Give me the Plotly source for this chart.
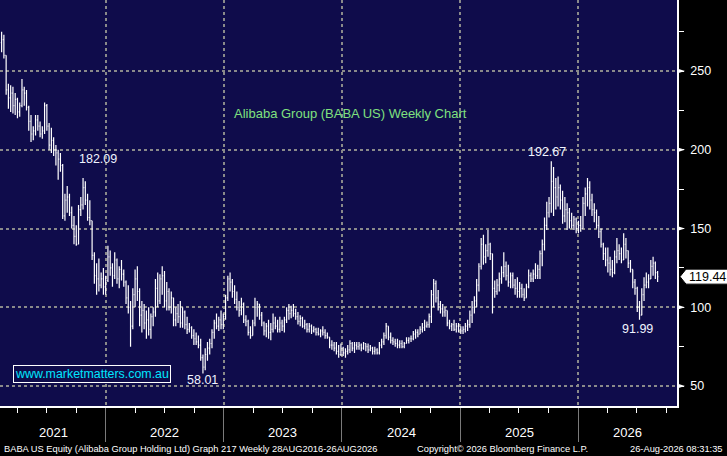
import pandas as pd
import plotly.graph_objects as go

# weekly bars (high / low / close), one list per calendar year
high_2021 = [275, 273, 260, 242, 241, 240, 236, 233, 230, 245,
             240, 238, 228, 222, 215, 222, 222, 218, 215, 230,
             229, 217, 214, 208, 203, 200, 198, 191, 172, 177,
             172, 164, 158, 152, 165, 170, 182.09, 180, 172, 168,
             155, 135, 128, 131, 122, 125]
low_2021 = [262, 258, 235, 226, 224, 223, 222, 220, 221, 227,
            228, 225, 212, 205, 206, 209, 212, 208, 207, 210,
            212, 200, 198, 196, 190, 181, 186, 156, 155, 160,
            158, 150, 140, 139, 140, 158, 162, 165, 155, 152,
            130, 115, 108, 110, 112, 108]
close_2021 = [270, 260, 238, 233, 236, 228, 232, 224, 228, 238,
              236, 227, 218, 210, 212, 219, 215, 210, 212, 228,
              215, 203, 206, 200, 198, 194, 190, 158, 168, 170,
              160, 152, 145, 140, 162, 165, 176, 168, 157, 155,
              133, 120, 118, 114, 118, 113]

high_2022 = [120, 139, 136, 128, 135, 131, 126, 130, 124, 117,
             114, 104, 112, 124, 126, 112, 104, 102, 98, 100,
             96, 100, 118, 122, 121, 126, 123, 116, 112, 110,
             106, 100, 102, 104, 100, 98, 94, 90, 88, 86,
             84, 82, 80, 70, 74, 78, 80, 86, 92, 96, 94, 98]
low_2022 = [108, 116, 120, 113, 118, 115, 112, 117, 113, 102,
            96, 75, 86, 100, 104, 88, 84, 86, 80, 82,
            80, 88, 94, 100, 102, 108, 100, 98, 98, 96,
            88, 88, 90, 87, 87, 86, 83, 84, 80, 76,
            76, 74, 66, 58.01, 60, 66, 70, 74, 80, 86, 85, 86]
close_2022 = [117, 132, 125, 120, 130, 118, 124, 121, 116, 106,
              100, 88, 108, 118, 110, 95, 98, 90, 92, 86,
              94, 97, 112, 104, 118, 120, 104, 110, 100, 106,
              92, 96, 94, 90, 97, 89, 86, 87, 82, 80,
              78, 76, 68, 62, 70, 74, 77, 84, 90, 88, 92, 89]

high_2023 = [96, 108, 120, 122, 118, 114, 110, 104, 106, 103,
             95, 92, 88, 92, 106, 104, 102, 97, 91, 90,
             92, 90, 96, 94, 92, 94, 92, 94, 100, 102,
             101, 102, 99, 97, 95, 94, 92, 90, 90, 89,
             88, 87, 87, 86, 88, 86, 84, 81, 79, 78, 78, 76]
low_2023 = [86, 92, 104, 110, 106, 102, 98, 94, 95, 90,
            88, 82, 80, 82, 88, 94, 92, 88, 82, 81,
            80, 79, 84, 86, 84, 84, 85, 84, 90, 92,
            93, 94, 92, 89, 88, 87, 86, 84, 84, 83,
            84, 82, 82, 81, 82, 80, 80, 74, 73, 72, 70, 68]
close_2023 = [94, 106, 118, 116, 110, 105, 100, 98, 102, 92,
              91, 84, 82, 90, 100, 102, 95, 90, 85, 88,
              84, 86, 90, 88, 86, 90, 88, 92, 98, 96,
              98, 96, 94, 91, 93, 88, 89, 86, 88, 85,
              86, 84, 83, 85, 84, 82, 81, 76, 76, 74, 72, 70]

high_2024 = [77, 75, 74, 76, 79, 78, 78, 78, 78, 77,
             78, 77, 77, 76, 75, 75, 74, 78, 80, 84,
             90, 88, 84, 81, 80, 80, 79, 79, 78, 81,
             81, 82, 85, 86, 86, 88, 90, 92, 91, 96,
             111, 118, 117, 111, 104, 102, 100, 98, 92, 90, 92, 90]
low_2024 = [69, 69, 68, 70, 71, 72, 71, 73, 73, 72,
            73, 72, 71, 72, 70, 70, 70, 70, 74, 76,
            80, 79, 77, 76, 75, 74, 74, 74, 74, 77,
            77, 78, 79, 80, 81, 83, 84, 85, 87, 87,
            90, 100, 103, 98, 96, 94, 94, 88, 86, 85, 85, 84]
close_2024 = [74, 71, 72, 73, 77, 74, 76, 75, 76, 74,
              77, 75, 73, 74, 72, 73, 71, 76, 78, 82,
              88, 81, 79, 78, 77, 76, 77, 75, 77, 79,
              80, 80, 83, 84, 83, 86, 87, 88, 89, 94,
              108, 115, 106, 102, 99, 97, 98, 90, 88, 89, 86, 88]

high_2025 = [90, 88, 88, 90, 92, 98, 104, 107, 118, 128,
             144, 146, 140, 149, 141, 134, 117, 118, 122, 126,
             135, 129, 127, 122, 122, 118, 119, 116, 115, 112,
             115, 124, 122, 124, 128, 127, 136, 143, 157, 167,
             170, 192.67, 189, 182, 183, 178, 174, 170, 166, 163, 160, 158]
low_2025 = [84, 83, 83, 84, 85, 87, 90, 96, 100, 110,
            124, 127, 128, 132, 130, 96, 106, 108, 110, 115,
            119, 117, 113, 112, 112, 108, 106, 106, 106, 104,
            106, 112, 116, 116, 118, 118, 118, 126, 136, 149,
            157, 160, 158, 162, 164, 162, 153, 154, 149, 150, 150, 149]
close_2025 = [86, 85, 86, 88, 89, 95, 100, 104, 114, 126,
              140, 132, 136, 140, 134, 112, 110, 114, 118, 122,
              126, 120, 116, 120, 114, 112, 110, 112, 108, 106,
              113, 120, 118, 121, 120, 124, 134, 140, 152, 160,
              166, 180, 176, 170, 176, 168, 158, 162, 160, 155, 152, 156]

high_2026 = [157, 155, 158, 170, 176, 182, 180, 172, 166, 162,
             158, 150, 141, 138, 138, 132, 130, 136, 144, 140,
             138, 147, 144, 136, 130, 124, 118, 113, 104, 112,
             119, 122, 121, 130, 132, 129, 123]
low_2026 = [147, 147, 148, 150, 158, 164, 162, 158, 154, 150,
            144, 138, 130, 126, 122, 120, 119, 121, 128, 130,
            128, 130, 131, 125, 122, 112, 108, 97, 91.99, 95,
            104, 112, 112, 118, 120, 118, 116]
close_2026 = [150, 152, 150, 166, 172, 176, 168, 162, 160, 152,
              148, 140, 134, 130, 128, 124, 122, 132, 136, 134,
              130, 140, 136, 128, 124, 116, 112, 100, 95, 108,
              114, 116, 118, 126, 128, 122, 119.44]

first_open = 268
first_week = "2021-02-12"

y_ticks = [50, 100, 150, 200, 250]
year_labels = ["2021", "2022", "2023", "2024", "2025", "2026"]

highs = high_2021 + high_2022 + high_2023 + high_2024 + high_2025 + high_2026
lows = low_2021 + low_2022 + low_2023 + low_2024 + low_2025 + low_2026
closes = close_2021 + close_2022 + close_2023 + close_2024 + close_2025 + close_2026
opens = [first_open] + closes[:-1]
dates = pd.date_range(first_week, periods=len(closes), freq="7D")

NAVY = "#0f0c4b"
GRID = "#8a8a8a"
SANS = "Liberation Sans, Arial, sans-serif"
W, H = 727, 456
ML, MR, MT, MB = 0, 50, 0, 50
pw, ph = W - ML - MR, H - MT - MB

x_start = pd.Timestamp("2021-02-07")
x_end = pd.Timestamp("2026-11-03")
y_lo, y_hi = 37.3, 295.1
upp = (y_hi - y_lo) / ph  # price units per pixel

fig = go.Figure()
fig.add_trace(go.Ohlc(
    x=dates, open=opens, high=highs, low=lows, close=closes,
    increasing=dict(line=dict(color="white", width=1.2)),
    decreasing=dict(line=dict(color="white", width=1.2)),
    tickwidth=0.35, showlegend=False, hoverinfo="skip"))

shapes = []
# arrow heads next to the price scale labels
for v in y_ticks:
    d = 2.5 * upp
    shapes.append(dict(type="path", xref="paper", yref="y",
                       path=f"M 1,{v - d} L 1,{v + d} L {1 + 8 / pw},{v} Z",
                       fillcolor="white", line=dict(width=0)))

# last price tag
last = closes[-1]
hh = 7.5 * upp
tip, lft, rgt = 1 + 3 / pw, 1 + 9 / pw, 1 + 52 / pw
shapes.append(dict(type="path", xref="paper", yref="y",
                   path=f"M {tip},{last} L {lft},{last + hh} L {rgt},{last + hh} "
                        f"L {rgt},{last - hh} L {lft},{last - hh} Z",
                   fillcolor="white", line=dict(color="black", width=1)))

annotations = []
annotations.append(dict(xref="paper", yref="y", x=1 + 10 / pw, y=last, text=f"{last:.2f}",
                        xanchor="left", yanchor="middle", showarrow=False,
                        font=dict(family=SANS, size=12.5, color="black")))

# year labels centred on the visible part of each year
for lab in year_labels:
    a = max(pd.Timestamp(f"{lab}-01-01"), x_start)
    b = min(pd.Timestamp(f"{int(lab) + 1}-01-01"), x_end)
    annotations.append(dict(xref="x", yref="paper", x=a + (b - a) / 2, y=-26 / ph,
                            text=lab, showarrow=False, xanchor="center", yanchor="middle",
                            font=dict(family=SANS, size=13, color="white")))

# high / low call-outs
def mark(val, arr, xs, ys, xa, ya):
    i = arr.index(val)
    annotations.append(dict(xref="x", yref="y", x=dates[i], y=val, text=f"{val:.2f}",
                            showarrow=False, xanchor=xa, yanchor=ya, xshift=xs, yshift=ys,
                            font=dict(family=SANS, size=12.5, color="#f0f4ff")))

mark(182.09, highs, -6, 10, "left", "bottom")
mark(192.67, highs, -4, 0, "center", "bottom")
mark(91.99, lows, -2, 0, "center", "top")
mark(58.01, lows, 0, 2, "center", "top")

annotations.append(dict(xref="paper", yref="paper", x=350 / pw, y=1 - 104 / ph,
                        text="Alibaba Group (BABA US) Weekly Chart", showarrow=False,
                        font=dict(family=SANS, size=13, color="#7fe07f")))
annotations.append(dict(xref="paper", yref="paper", x=13 / pw, y=1 - 374 / ph,
                        text="www.marketmatters.com.au", showarrow=False,
                        xanchor="left", yanchor="middle", bgcolor=NAVY,
                        bordercolor="white", borderwidth=1, borderpad=1,
                        font=dict(family=SANS, size=12.4, color="#00e6ff")))

foot_y = -(449 - ph) / ph
foot_font = dict(family=SANS, size=9.3, color="white")
annotations.append(dict(xref="paper", yref="paper", x=2 / pw, y=foot_y, showarrow=False,
                        xanchor="left", yanchor="middle", font=foot_font,
                        text="BABA US Equity (Alibaba Group Holding Ltd) Graph 217 Weekly 28AUG2016-26AUG2026"))
annotations.append(dict(xref="paper", yref="paper", x=415 / pw, y=foot_y, showarrow=False,
                        xanchor="left", yanchor="middle", font=foot_font,
                        text="Copyright© 2026 Bloomberg Finance L.P."))
annotations.append(dict(xref="paper", yref="paper", x=725 / pw, y=foot_y, showarrow=False,
                        xanchor="right", yanchor="middle", font=foot_font,
                        text="26-Aug-2026 08:31:35"))

fig.update_layout(
    width=W, height=H, margin=dict(l=ML, r=MR, t=MT, b=MB),
    paper_bgcolor="black", plot_bgcolor=NAVY,
    shapes=shapes, annotations=annotations,
    xaxis=dict(type="date", range=[x_start, x_end], rangeslider=dict(visible=False),
               tickmode="linear", tick0="2021-01-01", dtick="M12",
               showgrid=True, gridcolor=GRID, griddash="dot", gridwidth=2,
               ticks="outside", ticklen=34, tickcolor="#7a7a7a", tickwidth=1,
               showticklabels=False, showline=True, linecolor="white", linewidth=1.5,
               zeroline=False,
               minor=dict(ticks="outside", ticklen=5, tickcolor="white", tickwidth=1,
                          tick0="2021-01-01", dtick="M3", showgrid=False)),
    yaxis=dict(side="right", range=[y_lo, y_hi], tickmode="array", tickvals=y_ticks,
               showgrid=True, gridcolor=GRID, griddash="dot", gridwidth=2,
               ticks="outside", ticklen=9, tickcolor="rgba(0,0,0,0)",
               tickfont=dict(family=SANS, size=12.5, color="white"),
               showline=True, linecolor="white", linewidth=1.5, zeroline=False,
               minor=dict(ticks="outside", ticklen=5, tickcolor="white", tickwidth=1,
                          tick0=0, dtick=25, showgrid=False)),
)

fig.write_html("out.html", config={"displayModeBar": False},
               post_script="document.body.style.margin='0';")
